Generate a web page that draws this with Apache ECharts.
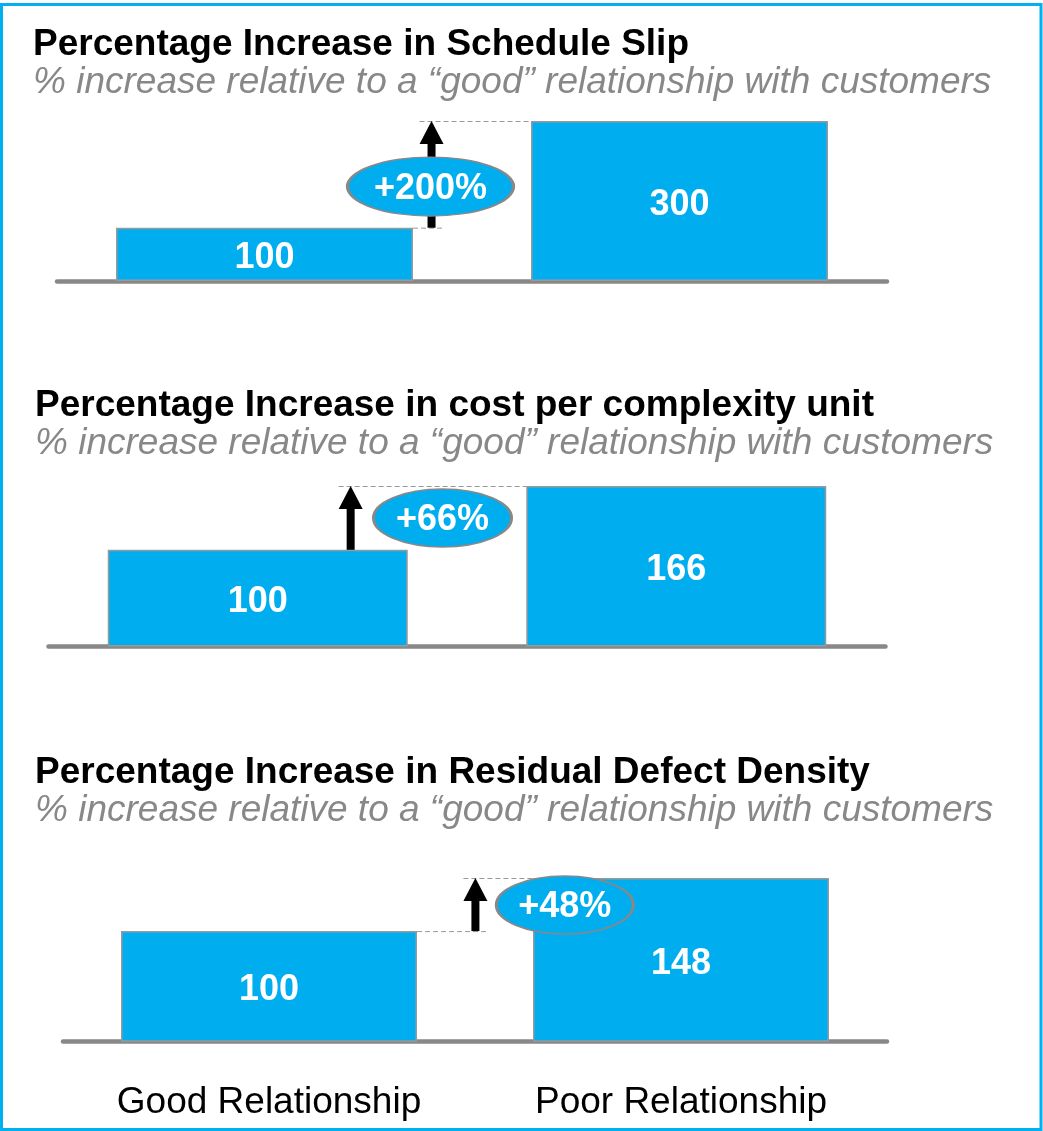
<!DOCTYPE html>
<html>
<head>
<meta charset="utf-8">
<script src="https://cdn.jsdelivr.net/npm/echarts@6/dist/echarts.min.js"></script>
<style>
html,body{margin:0;padding:0;background:#fff;}
#main{width:1043px;height:1131px;}
</style>
</head>
<body>
<div id="main"></div>
<script>
// data
var categories=['Good Relationship','Poor Relationship'];
var titles=['Percentage Increase in Schedule Slip','Percentage Increase in cost per complexity unit','Percentage Increase in Residual Defect Density'];
var subtitle='% increase relative to a \u201cgood\u201d relationship with customers';
var slipValues=[100,300];
var costValues=[100,166];
var defectValues=[100,148];

// layout (pixels / axis units)
var panels=[
    {values:slipValues,  left:57,   right:887,   top:121, bottom:281,    barW:297, titleLeft:33, titleY:45,  arrowX:0.9025, ell:[0.900,177],   ellSize:[166,59]},
    {values:costValues,  left:48.5, right:885.5, top:486, bottom:646.5,  barW:300, titleLeft:35, titleY:406, arrowX:0.722,  ell:[0.9415,132.9], ellSize:[138,58]},
    {values:defectValues,left:63,   right:887,   top:878, bottom:1041.7, barW:296, titleLeft:35, titleY:773, arrowX:1.001,  ell:[1.218,123.6],  ellSize:[137,58]}
];

var FONT="'Liberation Sans', Arial, sans-serif";
var BLUE='#00aeef';

var grid=[],xAxis=[],yAxis=[],series=[],title=[];

for(var i=0;i<panels.length;i++){
    var p=panels[i];
    grid.push({left:p.left,top:p.top,width:p.right-p.left,height:p.bottom-p.top,outerBoundsMode:'none'});

    title.push({
        text:titles[i],
        subtext:subtitle,
        left:p.titleLeft,
        top:p.titleY-19,
        padding:0,
        itemGap:0,
        textStyle:{fontFamily:FONT,fontSize:37,fontWeight:'bold',color:'#000',lineHeight:38},
        subtextStyle:{fontFamily:FONT,fontSize:37,fontStyle:'italic',color:'#888',lineHeight:38}
    });

    xAxis.push({
        type:'category',
        gridIndex:i,
        data:categories,
        axisLine:{show:true,lineStyle:{color:'#888',width:4.5}},
        axisTick:{show:false},
        axisLabel:{show:i==2,fontFamily:FONT,fontSize:37,color:'#000',margin:41,lineHeight:40}
    });
    yAxis.push({type:'value',gridIndex:i,min:0,max:Math.max.apply(null,p.values),show:false});

    series.push({
        type:'bar',
        xAxisIndex:i,
        yAxisIndex:i,
        data:p.values,
        barWidth:p.barW,
        itemStyle:{color:BLUE,borderColor:'#999',borderWidth:1.5},
        label:{show:true,position:'inside',offset:[0,4],fontFamily:FONT,fontSize:36,fontWeight:'bold',color:'#fff'},
        silent:true,
        z:2
    });
}

// overlay axes (0..2 across each grid) for arrows and ellipses
for(var i=0;i<panels.length;i++){
    xAxis.push({type:'value',gridIndex:i,min:0,max:2,show:false});
}

function arrowRender(barW){
    return function(params,api){
        var x=api.value(0),lo=api.value(1),hi=api.value(2);
        var pLo=api.coord([x,lo]),pHi=api.coord([x,hi]);
        var bar1R=api.coord([0.5,0])[0]+barW/2;
        var bar2L=api.coord([1.5,0])[0]-barW/2;
        var dash={stroke:'#999',lineWidth:1,lineDash:[5,3],fill:null};
        var children=[
            {type:'line',shape:{x1:pHi[0]-12,y1:pHi[1]+0.5,x2:bar2L,y2:pHi[1]+0.5},style:dash},
            {type:'rect',shape:{x:pLo[0]-4,y:pHi[1]+20,width:8,height:pLo[1]-pHi[1]-20},style:{fill:'#000'}},
            {type:'polygon',shape:{points:[[pHi[0],pHi[1]],[pHi[0]-12,pHi[1]+23],[pHi[0]+12,pHi[1]+23]]},style:{fill:'#000'}}
        ];
        if(pLo[0]>bar1R){
            children.unshift({type:'line',shape:{x1:bar1R,y1:pLo[1]+0.5,x2:pLo[0]+12,y2:pLo[1]+0.5},style:dash});
        }
        return {type:'group',children:children};
    };
}

for(var i=0;i<panels.length;i++){
    var p=panels[i];
    var lo=p.values[0],hi=p.values[1];
    var pct='+'+Math.round((hi-lo)/lo*100)+'%';
    series.push({
        type:'custom',
        xAxisIndex:3+i,
        yAxisIndex:i,
        data:[[p.arrowX,lo,hi]],
        renderItem:arrowRender(p.barW),
        silent:true,
        z:3
    });
    series.push({
        type:'scatter',
        xAxisIndex:3+i,
        yAxisIndex:i,
        data:[[p.ell[0],p.ell[1]]],
        symbol:'circle',
        symbolSize:p.ellSize,
        itemStyle:{color:BLUE,borderColor:'#888',borderWidth:2,opacity:1},
        label:{show:true,position:'inside',offset:[0,2],formatter:pct,fontFamily:FONT,fontSize:36,fontWeight:'bold',color:'#fff'},
        silent:true,
        z:4
    });
}

var myChart=echarts.init(document.getElementById('main'),null,{renderer:'canvas'});

var option={
    animation:false,
    title:title,
    grid:grid,
    xAxis:xAxis,
    yAxis:yAxis,
    series:series,
    graphic:[{
        type:'rect',
        shape:{x:1.5,y:4.5,width:1039.5,height:1125},
        style:{fill:null,stroke:'#00b0f0',lineWidth:3},
        silent:true
    }]
};

myChart.setOption(option);
</script>
</body>
</html>
